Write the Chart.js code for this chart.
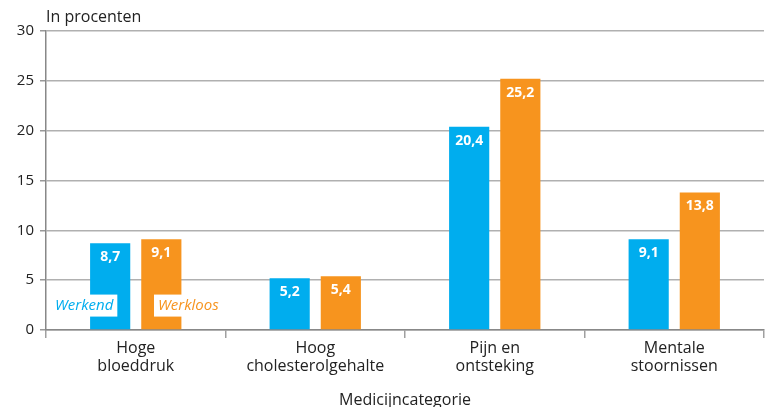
<!DOCTYPE html>
<html>
<head>
<meta charset="utf-8">
<script src="https://cdn.jsdelivr.net/npm/chart.js@4/dist/chart.umd.min.js"></script>
<style>
  html, body { margin: 0; padding: 0; background: #fff; }
  #wrap { width: 770px; height: 407px; position: relative; }
</style>
</head>
<body>
<div id="wrap"><canvas id="medChart"></canvas></div>
<script>
const categories = [['Hoge', 'bloeddruk'], ['Hoog', 'cholesterolgehalte'], ['Pijn en', 'ontsteking'], ['Mentale', 'stoornissen']];
const werkend = [8.7, 5.2, 20.4, 9.1];
const werkloos = [9.1, 5.4, 25.2, 13.8];
const yTicks = [0, 5, 10, 15, 20, 25, 30];

const BLUE = '#00adee';
const ORANGE = '#f7941e';
const FONT = "'Open Sans', sans-serif";

// white value labels inside top of each bar
const valueLabels = {
    id: 'valueLabels',
    afterDatasetsDraw(chart) {
        const ctx = chart.ctx;
        ctx.save();
        ctx.fillStyle = '#fff';
        ctx.font = 'bold 14px ' + FONT;
        ctx.textAlign = 'center';
        ctx.textBaseline = 'middle';
        chart.data.datasets.forEach((ds, di) => {
            chart.getDatasetMeta(di).data.forEach((bar, i) => {
                ctx.fillText(ds.data[i].toFixed(1).replace('.', ','), bar.x, bar.y + 14);
            });
        });
        ctx.restore();
    }
};

// series names in white boxes next to the first pair of bars, plus titles
const extras = {
    id: 'extras',
    afterDraw(chart) {
        const ctx = chart.ctx;
        const y = chart.scales.y.getPixelForValue(2.45);
        const b0 = chart.getDatasetMeta(0).data[0];
        const b1 = chart.getDatasetMeta(1).data[0];
        ctx.save();
        ctx.font = 'italic 15px ' + FONT;
        ctx.textAlign = 'center';
        ctx.textBaseline = 'middle';
        [[chart.data.datasets[0].label, b0.x - 26, BLUE], [chart.data.datasets[1].label, b1.x + 27, ORANGE]].forEach(([t, x, c]) => {
            const w = ctx.measureText(t).width + 8;
            ctx.fillStyle = '#fff';
            ctx.fillRect(x - w / 2, y - 11, w, 22);
            ctx.fillStyle = c;
            ctx.fillText(t, x, y);
        });
        ctx.fillStyle = '#222';
        ctx.font = '16px ' + FONT;
        ctx.textAlign = 'left';
        ctx.fillText('In procenten', chart.chartArea.left, 17);
        ctx.textAlign = 'center';
        ctx.fillText('Medicijncategorie', (chart.chartArea.left + chart.chartArea.right) / 2, 400);
        ctx.restore();
    }
};

new Chart(document.getElementById('medChart'), {
    type: 'bar',
    data: {
        labels: categories,
        datasets: [
            { label: 'Werkend', data: werkend, backgroundColor: BLUE, categoryPercentage: 0.57, barPercentage: 0.785 },
            { label: 'Werkloos', data: werkloos, backgroundColor: ORANGE, categoryPercentage: 0.57, barPercentage: 0.785 }
        ]
    },
    options: {
        responsive: true,
        maintainAspectRatio: false,
        animation: false,
        layout: { padding: { top: 31, right: 6, left: 0, bottom: 0 } },
        plugins: {
            legend: { display: false },
            tooltip: { enabled: false }
        },
        scales: {
            x: {
                grid: {
                    offset: true,
                    color: (c) => c.index === categories.length ? '#a0a0a0' : 'rgba(0,0,0,0)',
                    tickColor: '#a0a0a0',
                    tickLength: 8,
                    lineWidth: 1.5
                },
                border: { color: '#888', width: 1.5 },
                ticks: { color: '#222', font: { family: FONT, size: 16, lineHeight: 1.15 }, padding: 1, maxRotation: 0 },
                afterFit(scale) { scale.height = 77; }
            },
            y: {
                min: 0,
                max: 30,
                afterBuildTicks(scale) { scale.ticks = yTicks.map(v => ({ value: v })); },
                grid: { color: '#b0b0b0', tickColor: '#999', tickLength: 6, lineWidth: 1.5 },
                border: { color: '#888', width: 1.5 },
                ticks: { color: '#222', font: { family: FONT, size: 15 }, padding: 6 },
                afterFit(scale) { scale.width = 46; }
            }
        }
    },
    plugins: [valueLabels, extras]
});
</script>
</body>
</html>
